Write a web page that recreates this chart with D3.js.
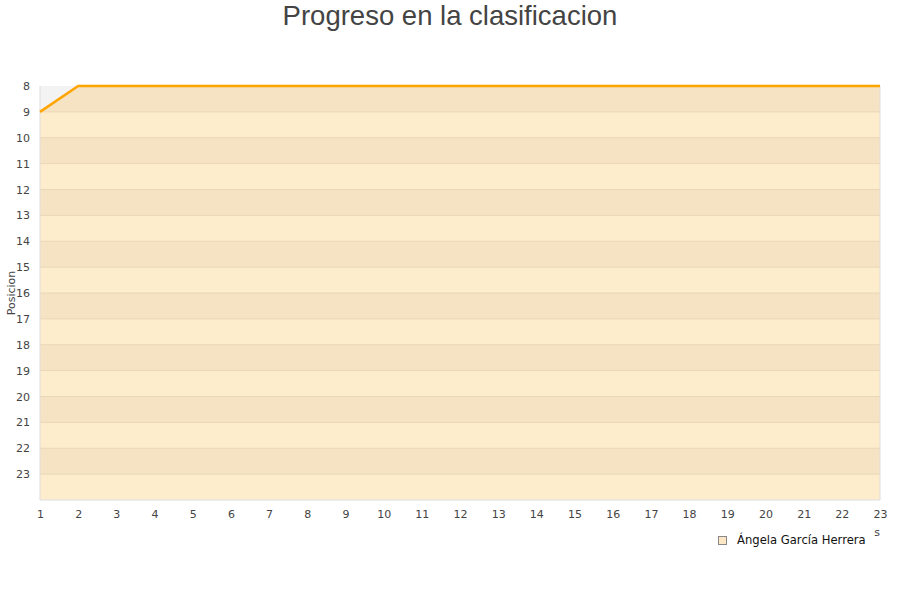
<html>
<meta charset="utf-8">
<head>
<script src="https://d3js.org/d3.v7.min.js"></script>
</head>
<body style="margin:0; background-color:#ffffff">
<div id="chart"></div>
<script>
// jornadas y posiciones
var jornadas = d3.range(1, 24);
var posiciones = [9, 8, 8, 8, 8, 8, 8, 8, 8, 8, 8, 8, 8, 8, 8, 8, 8, 8, 8, 8, 8, 8, 8];
var yTicks = d3.range(8, 24);
var jugadora = "Ángela García Herrera";

var width = 900, height = 600;
var margin = {top: 86, right: 20, bottom: 100, left: 40};

var svg = d3.select("#chart").append("svg")
  .attr("width", width).attr("height", height)
  .style("font-family", "'DejaVu Sans', sans-serif");

var x = d3.scaleLinear().domain([1, 23]).range([margin.left, width - margin.right]);
var y = d3.scaleLinear().domain([8, 24]).range([margin.top, height - margin.bottom]);

svg.append("text")
  .attr("x", width / 2).attr("y", 25)
  .attr("text-anchor", "middle")
  .style("font-family", "'Liberation Sans', Arial, sans-serif")
  .style("font-size", "27.5px")
  .style("fill", "#444")
  .text("Progreso en la clasificacion");

// fondo
svg.append("rect")
  .attr("x", x(1)).attr("y", y(8))
  .attr("width", x(23) - x(1)).attr("height", y(24) - y(8))
  .style("fill", "#f3f3f3");

var data = jornadas.map(function(d, i) { return {j: d, p: posiciones[i]}; });

var area = d3.area()
  .x(function(d) { return x(d.j); })
  .y0(y(24))
  .y1(function(d) { return y(d.p); });

svg.append("clipPath").attr("id", "under")
  .append("path").datum(data).attr("d", area);

var bands = svg.append("g").attr("clip-path", "url(#under)");
bands.selectAll("rect.band")
  .data(yTicks)
  .enter().append("rect")
    .attr("x", x(1)).attr("y", function(d) { return y(d); })
    .attr("width", x(23) - x(1))
    .attr("height", function(d) { return y(d + 1) - y(d); })
    .style("fill", function(d, i) { return i % 2 == 0 ? "#f6e3c3" : "#feedcd"; });

bands.selectAll("line.grid")
  .data(yTicks)
  .enter().append("line")
    .attr("x1", x(1)).attr("x2", x(23))
    .attr("y1", function(d) { return y(d); })
    .attr("y2", function(d) { return y(d); })
    .style("stroke", "#e9d6b4").style("stroke-width", 1);

// borde
svg.append("path")
  .attr("d", "M" + x(1) + "," + y(8) + "V" + y(24) + "H" + x(23) + "V" + y(8))
  .style("fill", "none").style("stroke", "#dddddd");

svg.append("path").datum(data)
  .attr("d", d3.line().x(function(d) { return x(d.j); }).y(function(d) { return y(d.p); }))
  .style("fill", "none").style("stroke", "#ffa500").style("stroke-width", 2.5);

// ejes
var xAxis = svg.append("g")
  .attr("transform", "translate(0," + y(24) + ")")
  .call(d3.axisBottom(x).tickValues(jornadas).tickFormat(d3.format("d")).tickSize(0).tickPadding(10));
xAxis.select(".domain").remove();
xAxis.selectAll("text").style("font-size", "11px").style("fill", "#444").style("font-family", "'DejaVu Sans', sans-serif");

var yAxis = svg.append("g")
  .attr("transform", "translate(" + (x(1) - 10) + ",0)")
  .call(d3.axisLeft(y).tickValues(yTicks).tickSize(0).tickPadding(0));
yAxis.select(".domain").remove();
yAxis.selectAll("text").style("font-size", "11px").style("fill", "#444").style("font-family", "'DejaVu Sans', sans-serif");

svg.append("text")
  .attr("transform", "translate(15," + ((y(8) + y(24)) / 2) + ") rotate(-90)")
  .attr("text-anchor", "middle")
  .style("font-size", "11px").style("fill", "#444")
  .text("Posicion");

// titulo eje x, tapado por la leyenda
svg.append("text")
  .attr("x", 880).attr("y", 536)
  .attr("text-anchor", "end")
  .style("font-size", "11px").style("fill", "#444")
  .text("Jornadas");

var legend = svg.append("g");
legend.append("rect")
  .attr("x", 708).attr("y", 528).attr("width", 166).attr("height", 24)
  .style("fill", "#ffffff");
legend.append("rect")
  .attr("x", 718.5).attr("y", 536.5).attr("width", 8).attr("height", 8)
  .style("fill", "#fde7c4").style("stroke", "#888").style("stroke-width", 1);
legend.append("text")
  .attr("x", 737).attr("y", 544)
  .style("font-size", "11.6px").style("fill", "#111")
  .text(jugadora);
</script>
</body>
</html>
